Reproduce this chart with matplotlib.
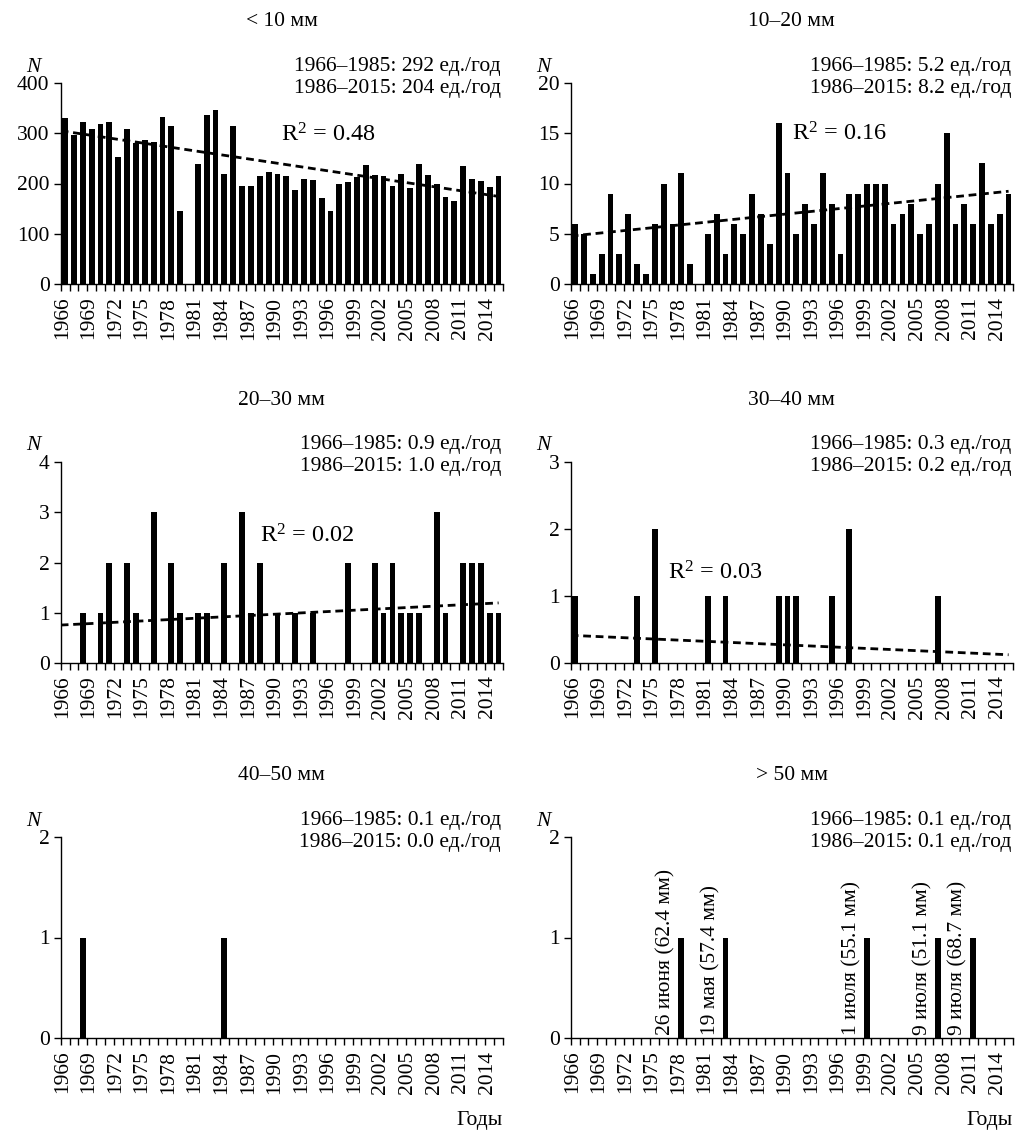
import numpy as np
import matplotlib
matplotlib.use("Agg")
import matplotlib.pyplot as plt

plt.rcParams['font.family'] = ['Liberation Serif', 'DejaVu Serif']
plt.rcParams['mathtext.fontset'] = 'custom'
plt.rcParams['mathtext.rm'] = 'Liberation Serif'
plt.rcParams['mathtext.it'] = 'Liberation Serif:italic'

nan = np.nan
years = np.arange(1966, 2016)

n_lt10 = [331, 297, 323, 309, 318, 323, 253, 309, 280, 287,
          283, 333, 315, 145, nan, 239, 336, 346, 219, 315,
          195, 195, 215, 223, 219, 215, 187, 209, 207, 171,
          145, 199, 203, 213, 237, 217, 215, 195, 219, 191,
          239, 217, 199, 173, 165, 235, 209, 205, 193, 215]
n_10_20 = [6, 5, 1, 3, 9, 3, 7, 2, 1, 6,
           10, 6, 11, 2, nan, 5, 7, 3, 6, 5,
           9, 7, 4, 16, 11, 5, 8, 6, 11, 8,
           3, 9, 9, 10, 10, 10, 6, 7, 8, 5,
           6, 10, 15, 6, 8, 6, 12, 6, 7, 9]
n_20_30 = [0, 0, 1, 0, 1, 2, 0, 2, 1, 0,
           3, 0, 2, 1, nan, 1, 1, 0, 2, 0,
           3, 1, 2, 0, 1, 0, 1, 0, 1, 0,
           0, 0, 2, 0, 0, 2, 1, 2, 1, 1,
           1, 0, 3, 1, 0, 2, 2, 2, 1, 1]
n_30_40 = [1, 0, 0, 0, 0, 0, 0, 1, 0, 2,
           0, 0, 0, 0, nan, 1, 0, 1, 0, 0,
           0, 0, 0, 1, 1, 1, 0, 0, 0, 1,
           0, 2, 0, 0, 0, 0, 0, 0, 0, 0,
           0, 1, 0, 0, 0, 0, 0, 0, 0, 0]
n_40_50 = [0, 0, 1, 0, 0, 0, 0, 0, 0, 0,
           0, 0, 0, 0, nan, 0, 0, 0, 1, 0,
           0, 0, 0, 0, 0, 0, 0, 0, 0, 0,
           0, 0, 0, 0, 0, 0, 0, 0, 0, 0,
           0, 0, 0, 0, 0, 0, 0, 0, 0, 0]
n_gt50 = [0, 0, 0, 0, 0, 0, 0, 0, 0, 0,
          0, 0, 1, 0, nan, 0, 0, 1, 0, 0,
          0, 0, 0, 0, 0, 0, 0, 0, 0, 0,
          0, 0, 0, 1, 0, 0, 0, 0, 0, 0,
          0, 1, 0, 0, 0, 1, 0, 0, 0, 0]

gt50_event_years = [1978, 1983, 1999, 2007, 2011]
gt50_event_labels = ['26 июня (62.4 мм)', '19 мая (57.4 мм)', '1 июля (55.1 мм)',
                     '9 июля (51.1 мм)', '9 июля (68.7 мм)']

series = [n_lt10, n_10_20, n_20_30, n_30_40, n_40_50, n_gt50]
titles = ['< 10 мм', '10–20 мм', '20–30 мм', '30–40 мм', '40–50 мм', '> 50 мм']
stats1 = ['1966–1985: 292 ед./год', '1966–1985: 5.2 ед./год', '1966–1985: 0.9 ед./год',
          '1966–1985: 0.3 ед./год', '1966–1985: 0.1 ед./год', '1966–1985: 0.1 ед./год']
stats2 = ['1986–2015: 204 ед./год', '1986–2015: 8.2 ед./год', '1986–2015: 1.0 ед./год',
          '1986–2015: 0.2 ед./год', '1986–2015: 0.0 ед./год', '1986–2015: 0.1 ед./год']
y_ticks = [[0, 100, 200, 300, 400], [0, 5, 10, 15, 20], [0, 1, 2, 3, 4],
           [0, 1, 2, 3], [0, 1, 2], [0, 1, 2]]
r2_text = [r'$\mathrm{R}^2$ = 0.48', r'$\mathrm{R}^2$ = 0.16',
           r'$\mathrm{R}^2$ = 0.02', r'$\mathrm{R}^2$ = 0.03', None, None]
r2_pos = [(1990.4, 297), (1990.5, 14.9), (1988.0, 2.52), (1976.5, 1.35), None, None]
show_trend = [True, True, True, True, False, False]

W, H = 1023, 1135
fig = plt.figure(figsize=(W / 100, H / 100), dpi=100)

col_left = [60.7, 570.7]
ax_w = 442.3
row_top = [83, 462, 837]
ax_h = 201
FS = 15.5

for k in range(6):
    r, c = divmod(k, 2)
    l = col_left[c]
    t = row_top[r]
    ax = fig.add_axes([l / W, 1 - (t + ax_h) / H, ax_w / W, ax_h / H])
    vals = np.array(series[k], dtype=float)
    ax.bar(years, vals, width=0.66, color='black', zorder=2)

    if show_trend[k]:
        m = ~np.isnan(vals)
        p = np.polyfit(years[m], vals[m], 1)
        xs = np.array([years[0] - 0.5, years[-1]])
        ax.plot(xs, np.polyval(p, xs), color='black', lw=2.0,
                dashes=(2.8, 1.7), zorder=3)
    if r2_text[k]:
        ax.text(r2_pos[k][0], r2_pos[k][1], r2_text[k], fontsize=17.5,
                ha='left', va='center')

    ax.set_xlim(1965.5, 2015.5)
    yt = y_ticks[k]
    ax.set_ylim(0, yt[-1])
    ax.set_yticks(yt)
    ax.set_yticklabels([str(v) for v in yt], fontsize=FS)
    ax.set_xticks(np.arange(1965.5, 2016, 1.0))
    ax.set_xticklabels([])
    ax.set_xticks(years[::3] - 0.3, minor=True)
    ax.set_xticklabels([str(y) for y in years[::3]], minor=True,
                       rotation=90, fontsize=FS)
    ax.tick_params(axis='x', which='major', direction='out', length=5, width=1)
    ax.tick_params(axis='x', which='minor', length=0, pad=9)
    ax.tick_params(axis='y', direction='out', length=5, width=1, pad=3)
    for s in ['top', 'right']:
        ax.spines[s].set_visible(False)
    for s in ['left', 'bottom']:
        ax.spines[s].set_linewidth(1.0)

    if k == 5:
        for yy, lab in zip(gt50_event_years, gt50_event_labels):
            ax.text(yy - 0.6, 0.03, lab, rotation=90, ha='right', va='bottom',
                    fontsize=FS)

    fig.text((l + ax_w / 2) / W, 1 - (t - 61) / H, titles[k], ha='center',
             va='center', fontsize=FS)
    fig.text((l - 27) / W, 1 - (t - 16) / H, 'N', ha='center', va='center',
             fontsize=FS, style='italic')
    fig.text((l + ax_w - 2) / W, 1 - (t - 17) / H, stats1[k], ha='right',
             va='center', fontsize=FS)
    fig.text((l + ax_w - 2) / W, 1 - (t + 5) / H, stats2[k], ha='right',
             va='center', fontsize=FS)
    if r == 2:
        fig.text((l + ax_w) / W, 1 - 1120 / H, 'Годы', ha='right', va='center',
                 fontsize=FS)

fig.savefig('out.png', dpi=100)
